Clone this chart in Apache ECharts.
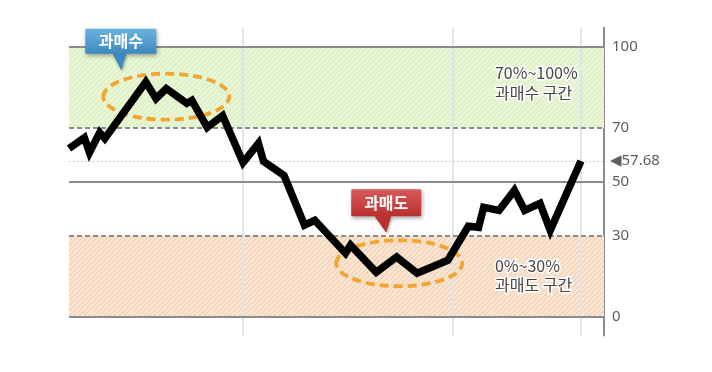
<!DOCTYPE html>
<html><head><meta charset="utf-8">
<script src="https://cdn.jsdelivr.net/npm/echarts@6/dist/echarts.min.js"></script>
<style>html,body{margin:0;padding:0;background:#fff}#c{width:712px;height:372px}</style>
</head><body><div id="c"></div>
<script>
// ---- data ----
const days   = [0, 3, 4, 6, 7, 15, 17, 19, 23, 24, 27, 30, 34, 37, 38, 42, 46, 48, 54, 55, 60, 64, 68, 74, 78, 80, 81, 84, 87, 89, 92, 94, 100];
const values = [62.3, 66.3, 60.8, 68.2, 66.0, 86.9, 80.8, 84.5, 79.0, 80.1, 70.1, 74.5, 57.1, 64.2, 57.5, 52.3, 33.9, 35.7, 23.5, 26.5, 16.5, 22.1, 16.1, 20.9, 33.5, 33.1, 40.5, 39.4, 46.8, 39.4, 42.0, 32.0, 57.68];
const yTickLabels = [0, 30, 50, 70, 100];
const monthLines = [34, 75, 100];
const overboughtZone = [70, 100];
const oversoldZone = [0, 30];
const lastValue = 57.68;
const overboughtAnchor = [19, 81.5];
const oversoldAnchor = [64.5, 19.8];
const overboughtTag = '과매수';
const oversoldTag = '과매도';
const overboughtText = ['70%~100%', '과매수 구간'];
const oversoldText = ['0%~30%', '과매도 구간'];

function hatch(bg, fg) {
  const s = 5, c = document.createElement('canvas');
  c.width = s; c.height = s;
  const g = c.getContext('2d');
  g.fillStyle = bg; g.fillRect(0, 0, s, s);
  g.strokeStyle = fg; g.lineWidth = 1;
  g.beginPath();
  g.moveTo(-1, s + 1); g.lineTo(s + 1, -1);
  g.moveTo(-1, 1); g.lineTo(1, -1);
  g.moveTo(s - 1, s + 1); g.lineTo(s + 1, s - 1);
  g.stroke();
  return c;
}

const chart = echarts.init(document.getElementById('c'), null, {renderer: 'canvas'});
const KR = '"Noto Sans CJK KR", "Noto Sans", sans-serif';
const gridCol = '#8c8c8c';

chart.setOption({
  animation: false,
  grid: {left: 69, right: 108, top: 27.8, bottom: 36.4},
  xAxis: {type: 'value', min: 0, max: 104.5, show: false, splitLine: {show: false}},
  yAxis: {
    type: 'value', position: 'right', min: -7, max: 107,
    axisLine: {show: true, onZero: false, lineStyle: {color: '#8c8c8c', width: 2}},
    axisTick: {show: false},
    splitLine: {show: false},
    axisLabel: {customValues: yTickLabels, color: '#5e5e5e', fontSize: 15, margin: 8, fontFamily: '"Noto Sans", sans-serif'}
  },
  series: [{
    type: 'line', z: 10,
    data: days.map((d, i) => [d, values[i]]),
    symbol: 'none',
    lineStyle: {color: '#000', width: 7.5, join: 'miter', miterLimit: 3},
    markArea: {
      silent: true, z: 1,
      data: [
        [{yAxis: overboughtZone[0], itemStyle: {color: {image: hatch('#e9f6d6', '#d3ecb8'), repeat: 'repeat'}}}, {yAxis: overboughtZone[1]}],
        [{yAxis: oversoldZone[0], itemStyle: {color: {image: hatch('#fae3cf', '#ebc9ac'), repeat: 'repeat'}}}, {yAxis: oversoldZone[1]}]
      ]
    },
    markLine: {
      silent: true, symbol: ['none', 'none'], z: 2,
      label: {show: false},
      data: [
        {xAxis: monthLines[0], lineStyle: {color: '#dfe3ea', width: 2, type: 'solid'}},
        {xAxis: monthLines[1], lineStyle: {color: '#dfe3ea', width: 2, type: 'solid'}},
        {xAxis: monthLines[2], lineStyle: {color: '#dfe3ea', width: 2, type: 'solid'}},
        {yAxis: 100, lineStyle: {color: gridCol, width: 2, type: 'solid'}},
        {yAxis: 50, lineStyle: {color: gridCol, width: 2, type: 'solid'}},
        {yAxis: 0, lineStyle: {color: gridCol, width: 2, type: 'solid'}},
        {yAxis: 70, lineStyle: {color: gridCol, width: 2, type: [5, 3]}},
        {yAxis: 30, lineStyle: {color: gridCol, width: 2, type: [5, 3]}},
        {yAxis: lastValue, lineStyle: {color: '#cfcfcf', width: 1, type: [2, 2]},
         label: {show: true, position: 'end', distance: 6, formatter: '◀' + lastValue, color: '#5e5e5e', fontSize: 15, fontFamily: '"Noto Sans", "DejaVu Sans", sans-serif'}}
      ]
    }
  }]
});

function callout(box, tip, text, top, bottom) {
  return {
    type: 'group', z: 20,
    children: [
      {type: 'polygon', z: 20, shape: {points: [[box.x + tip.b0, box.y + box.h - 1], [box.x + tip.b1, box.y + box.h - 1], [tip.x, tip.y]]},
       style: {fill: bottom, shadowBlur: 3, shadowColor: 'rgba(0,0,0,0.35)', shadowOffsetX: 1, shadowOffsetY: 2}},
      {type: 'rect', z: 21, shape: {x: box.x, y: box.y, width: box.w, height: box.h, r: 1},
       style: {fill: new echarts.graphic.LinearGradient(0, 0, 0, 1, [{offset: 0, color: top}, {offset: 1, color: bottom}]),
               shadowBlur: 4, shadowColor: 'rgba(0,0,0,0.35)', shadowOffsetX: 1, shadowOffsetY: 2}},
      {type: 'polygon', z: 22, shape: {points: [[box.x + tip.b0, box.y + box.h - 1], [box.x + tip.b1, box.y + box.h - 1], [tip.x, tip.y]]},
       style: {fill: bottom}},
      {type: 'text', z: 23, x: box.x + box.w / 2, y: box.y + box.h / 2,
       style: {text: text, fill: '#fff', font: 'bold 16px ' + KR, align: 'center', verticalAlign: 'middle'}}
    ]
  };
}

const pOB = chart.convertToPixel({gridIndex: 0}, overboughtAnchor);
const pOS = chart.convertToPixel({gridIndex: 0}, oversoldAnchor);
const ellStyle = {fill: 'none', stroke: '#f2a530', lineWidth: 3.8, lineDash: [9, 5]};
const bandTextStyle = (t) => ({text: t, fill: '#444', font: '16px ' + KR, align: 'left', verticalAlign: 'middle', stroke: '#fff', lineWidth: 3});
const p100 = chart.convertToPixel({gridIndex: 0}, [83.2, 100]);
const p30 = chart.convertToPixel({gridIndex: 0}, [83.2, 30]);

chart.setOption({
  graphic: [
    {type: 'ellipse', z: 5, shape: {cx: pOB[0], cy: pOB[1], rx: 63, ry: 23}, style: ellStyle},
    {type: 'ellipse', z: 5, shape: {cx: pOS[0], cy: pOS[1], rx: 63, ry: 23}, style: ellStyle},
    callout({x: pOB[0] - 81, y: pOB[1] - 68, w: 71, h: 25}, {b0: 27, b1: 41, x: pOB[0] - 45, y: pOB[1] - 27}, overboughtTag, '#6ab3de', '#3d88c0'),
    callout({x: pOS[0] - 48, y: pOS[1] - 74, w: 70, h: 27}, {b0: 23, b1: 40, x: pOS[0] - 13, y: pOS[1] - 31}, oversoldTag, '#d85a58', '#b8302f'),
    {type: 'text', z: 6, x: p100[0], y: p100[1] + 26, style: bandTextStyle(overboughtText[0])},
    {type: 'text', z: 6, x: p100[0], y: p100[1] + 46, style: bandTextStyle(overboughtText[1])},
    {type: 'text', z: 6, x: p30[0], y: p30[1] + 30, style: bandTextStyle(oversoldText[0])},
    {type: 'text', z: 6, x: p30[0], y: p30[1] + 49, style: bandTextStyle(oversoldText[1])}
  ]
});
</script></body></html>
